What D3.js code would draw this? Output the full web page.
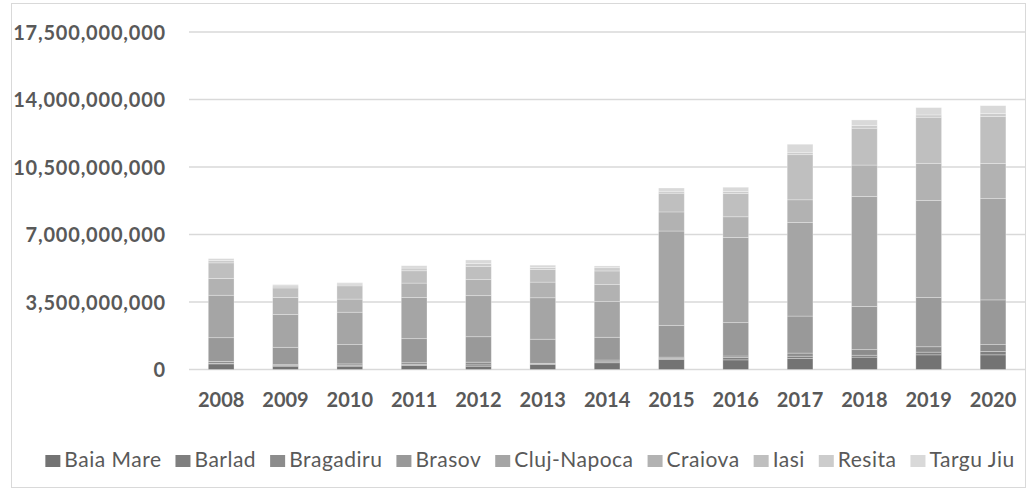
<!DOCTYPE html>
<html><head><meta charset="utf-8">
<script src="https://cdn.jsdelivr.net/npm/d3@7"></script>
<style>body{margin:0;background:#fff}svg{display:block}</style>
</head><body><svg id="c" width="1030" height="490"></svg>
<script>
const years = ["2008","2009","2010","2011","2012","2013","2014","2015","2016","2017","2018","2019","2020"];
const cities = ["Baia Mare","Barlad","Bragadiru","Brasov","Cluj-Napoca","Craiova","Iasi","Resita","Targu Jiu"];
const baiaMare  = [290e6,170e6,170e6,210e6,170e6,270e6,350e6,520e6,500e6,570e6,640e6,760e6,760e6];
const barlad    = [30e6,30e6,50e6,50e6,70e6,20e6,50e6,50e6,120e6,120e6,100e6,140e6,170e6];
const bragadiru = [100e6,50e6,70e6,90e6,140e6,30e6,90e6,70e6,80e6,160e6,290e6,280e6,360e6];
const brasov    = [1230e6,900e6,1000e6,1250e6,1320e6,1250e6,1180e6,1650e6,1730e6,1920e6,2240e6,2560e6,2320e6];
const clujNapoca= [2200e6,1700e6,1680e6,2130e6,2130e6,2150e6,1850e6,4890e6,4420e6,4850e6,5700e6,5030e6,5250e6];
const craiova   = [870e6,880e6,680e6,750e6,830e6,810e6,880e6,990e6,1070e6,1180e6,1630e6,1920e6,1820e6];
const iasi      = [810e6,500e6,690e6,640e6,680e6,660e6,710e6,970e6,1210e6,2340e6,1910e6,2390e6,2440e6];
const resita    = [120e6,100e6,90e6,140e6,150e6,100e6,170e6,100e6,100e6,120e6,140e6,120e6,160e6];
const targuJiu  = [100e6,70e6,70e6,120e6,190e6,120e6,90e6,170e6,220e6,420e6,290e6,380e6,400e6];
const yTicks = [0,3500000000,7000000000,10500000000,14000000000,17500000000];
const colors = ["#737373","#7f7f7f","#8c8c8c","#999999","#a5a5a5","#b2b2b2","#bfbfbf","#cccccc","#d9d9d9"];

const seriesValues = [baiaMare,barlad,bragadiru,brasov,clujNapoca,craiova,iasi,resita,targuJiu];
const rows = years.map((y,i)=>{const r={year:y};cities.forEach((c,k)=>r[c]=seriesValues[k][i]);return r;});

const svg = d3.select("#c");
const font = "Lato, 'Open Sans', sans-serif";
const textCol = "#595959";

svg.append("rect").attr("x",11.5).attr("y",3.5).attr("width",1014).attr("height",484)
  .attr("fill","#fff").attr("stroke","#d9d9d9").attr("stroke-width",1);

const x = d3.scaleBand().domain(years).range([189,1025.2]).paddingInner(0.6).paddingOuter(0.3);
const y = d3.scaleLinear().domain([0,17500000000]).range([369.5,32]);

// grid
svg.append("g").selectAll("line").data(yTicks).join("line")
  .attr("x1",189).attr("x2",1025).attr("y1",d=>y(d)).attr("y2",d=>y(d))
  .attr("stroke","#d9d9d9").attr("stroke-width",1.6);

// y axis labels
const yAxis = d3.axisLeft(y).tickValues(yTicks).tickFormat(d3.format(",")).tickSize(0).tickPadding(0);
const gy = svg.append("g").attr("transform","translate(166,0)").call(yAxis);
gy.select(".domain").remove();
gy.selectAll("text").attr("font-family",font).attr("font-weight","bold").attr("font-size","20px")
  .attr("fill",textCol).attr("letter-spacing","0.8px").attr("dy","0.35em");

// stacked bars
const stack = d3.stack().keys(cities)(rows);
svg.append("g").selectAll("g").data(stack).join("g").attr("fill",(d,i)=>colors[i])
  .selectAll("rect").data(d=>d).join("rect")
  .attr("x",d=>x(d.data.year)).attr("width",x.bandwidth())
  .attr("y",d=>y(d[1])).attr("height",d=>y(d[0])-y(d[1]))
  .attr("stroke","#ffffff").attr("stroke-opacity",0.35).attr("stroke-width",0.8);

// x axis labels
const xAxis = d3.axisBottom(x).tickSize(0).tickPadding(0);
const gx = svg.append("g").attr("transform","translate(0,407)").call(xAxis);
gx.select(".domain").remove();
gx.selectAll("text").attr("font-family",font).attr("font-weight","bold").attr("font-size","20px")
  .attr("fill",textCol).attr("dy","0");

// legend
const lg = svg.append("g");
const items = lg.selectAll("g").data(cities).join("g");
items.append("rect").attr("width",15).attr("height",12).attr("y",455).attr("fill",(d,i)=>colors[i]);
items.append("text").text(d=>d).attr("x",19).attr("y",467)
  .attr("font-family",font).attr("font-size","21px").attr("letter-spacing","0.5px").attr("fill",textCol);
let widths = [];
items.each(function(){widths.push(19 + d3.select(this).select("text").node().getComputedTextLength());});
const gap = 14;
const total = d3.sum(widths) + gap*(widths.length-1);
let cx = 530 - total/2;
items.attr("transform",(d,i)=>{const t=`translate(${cx},0)`;cx+=widths[i]+gap;return t;});
</script></body></html>
